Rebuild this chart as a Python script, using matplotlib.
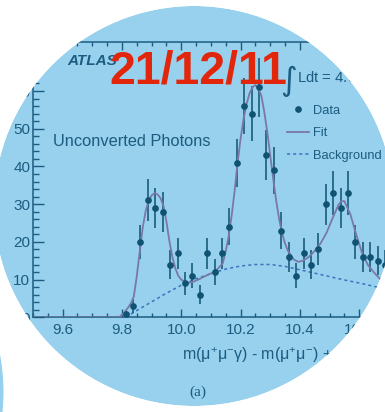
import numpy as np
import matplotlib.pyplot as plt
from matplotlib.patches import Circle, PathPatch
from matplotlib.path import Path
from matplotlib.transforms import IdentityTransform

plt.rcParams['font.family'] = ['Liberation Sans', 'DejaVu Sans']
plt.rcParams['mathtext.fontset'] = 'custom'
plt.rcParams['mathtext.rm'] = 'Liberation Sans'
plt.rcParams['mathtext.default'] = 'regular'

# chi_b candidates, 25 MeV bins
mass = [9.8125, 9.8375, 9.8625, 9.8875, 9.9125, 9.9375, 9.9625, 9.9875,
        10.0125, 10.0375, 10.0625, 10.0875, 10.1125, 10.1375, 10.1625, 10.1875,
        10.2125, 10.2375, 10.2625, 10.2875, 10.3125, 10.3375, 10.3625, 10.3875,
        10.4125, 10.4375, 10.4625, 10.4875, 10.5125, 10.5375, 10.5625, 10.5875,
        10.6125, 10.6375, 10.6625, 10.6875]
counts = [1, 3, 20, 31, 29, 28, 14, 17,
          9, 11, 6, 17, 12, 17, 24, 41,
          56, 54, 61, 43, 39, 23, 16, 11,
          17, 14, 18, 30, 33, 29, 33, 20,
          16, 16, 15, 14]

# total fit curve
fit_mass = [9.50, 9.79, 9.805, 9.82, 9.83, 9.84, 9.85, 9.86, 9.87, 9.88, 9.89,
            9.90, 9.91, 9.92, 9.93, 9.94, 9.95, 9.96, 9.97, 9.98, 9.99, 10.00,
            10.02, 10.04, 10.06, 10.08, 10.10, 10.12, 10.14, 10.15, 10.16, 10.17,
            10.18, 10.19, 10.20, 10.21, 10.22, 10.23, 10.24, 10.25, 10.26, 10.27,
            10.28, 10.29, 10.30, 10.31, 10.32, 10.33, 10.34, 10.35, 10.36, 10.38,
            10.395, 10.41, 10.43, 10.45, 10.47, 10.49, 10.51, 10.53, 10.54, 10.55,
            10.57, 10.59, 10.61, 10.63, 10.65, 10.67, 10.69, 10.72, 10.76]
fit_val = [0, 0, 1.0, 2.5, 3.7, 5.5, 10.9, 17.4, 23.8, 28.2, 30.9,
           32.3, 32.9, 32.6, 31.6, 29.6, 25.4, 20.2, 16.0, 13.0, 11.0, 10.0,
           9.1, 9.4, 10.1, 10.9, 11.6, 12.6, 14.3, 17.5, 21.5, 27.0,
           33.5, 41.0, 47.3, 52.5, 56.5, 59.3, 61.0, 61.6, 60.6, 58.8,
           54.5, 49.2, 43.0, 36.8, 31.0, 26.1, 22.3, 19.6, 17.6, 15.3,
           14.7, 15.0, 16.0, 17.6, 19.6, 22.4, 26.2, 29.8, 30.8, 30.8,
           27.4, 22.0, 17.0, 13.8, 11.9, 10.2, 9.1, 8.0, 7.0]

# background component
bkg_mass = [9.8125, 9.85, 9.90, 9.95, 10.00, 10.05, 10.10, 10.15, 10.20, 10.25,
            10.30, 10.35, 10.40, 10.45, 10.50, 10.55, 10.60, 10.65, 10.70, 10.75, 10.80]
bkg_val = [0, 1.8, 4.1, 6.4, 8.5, 10.2, 11.6, 12.8, 13.6, 14.0,
           14.0, 13.5, 12.6, 11.7, 10.8, 9.9, 9.1, 8.2, 7.4, 6.6, 5.8]

W, H = 385, 412
dark = '#1c5c80'
pcol = '#0f5272'
blue_bg = '#97d1ed'


def fpos(x, y):
    return x / W, 1 - y / H


fig = plt.figure(figsize=(W / 100, H / 100), dpi=100)
fig.patch.set_facecolor('white')

# blue disc
cx, cy, r = 194, H - 206, 200
fig.add_artist(Circle((cx, cy), r, transform=IdentityTransform(),
                      facecolor=blue_bg, edgecolor='none', zorder=-2))

ax_left, ax_bottom, ax_top = 33.0, 317.3, 42.0
xmin, xmax = 9.5, 11.0
ppu = 296.5
ax = fig.add_axes([ax_left / W, (H - ax_bottom) / H,
                   (xmax - xmin) * ppu / W, (ax_bottom - ax_top) / H])
ax.set_facecolor('none')
ax.set_xlim(xmin, xmax)
ax.set_ylim(0, 73)

ax.errorbar(mass, counts, yerr=np.sqrt(counts), fmt='none', ecolor=pcol,
            elinewidth=1.1, capsize=0, zorder=3)
ax.plot(fit_mass, fit_val, color='#7b78a8', lw=1.3, label='Fit', zorder=4)
ax.plot(mass, counts, 'o', color=pcol, ms=3.8, label='Data', zorder=5)
bl, = ax.plot(bkg_mass, bkg_val, color='#3c72bf', lw=1.1, label='Background', zorder=2)
bl.set_dashes((2, 2))

for s in ax.spines.values():
    s.set_color(dark)
    s.set_linewidth(1.1)
ax.set_xticks(np.arange(9.6, 11.01, 0.2))
ax.set_xticks(np.arange(9.5, 11.01, 0.05), minor=True)
ax.set_yticks(np.arange(0, 71, 10))
ax.set_yticks(np.arange(0, 73, 2), minor=True)
ax.xaxis.set_major_formatter(plt.FuncFormatter(lambda v, p: f'{v:.1f}'))
ax.tick_params(which='both', direction='in', top=True, right=True,
               color=dark, labelcolor=dark, width=1.0, labelsize=11)
ax.tick_params(axis='x', which='major', length=5.8, pad=4)
ax.tick_params(axis='x', which='minor', length=2.9)
ax.tick_params(axis='y', which='major', length=8, pad=2)
ax.tick_params(axis='y', which='minor', length=4.3)

ax.set_xlabel('m(μ$^{+}$μ$^{-}$γ) - m(μ$^{+}$μ$^{-}$) + m$_{Υ(1S)}$ [GeV]',
              ha='left', fontsize=11.5, color=dark)
ax.xaxis.set_label_coords((181.7 - ax_left) / ((xmax - xmin) * ppu),
                          -(345.5 - ax_bottom) / (ax_bottom - ax_top))

leg = ax.legend(handles=[ax.lines[1], ax.lines[0], bl], loc='upper left',
                bbox_to_anchor=fpos(287, 104.5), bbox_transform=fig.transFigure,
                frameon=False, fontsize=9.3, borderpad=0, borderaxespad=0,
                handlelength=1.7, handletextpad=0.35, labelspacing=0.82)
for t in leg.get_texts():
    t.set_color(dark)

fig.text(*fpos(67, 65), 'ATLAS', fontsize=11, style='italic', weight='bold',
         color=dark, va='baseline', zorder=2)
fig.text(*fpos(53, 146.5), 'Unconverted Photons', fontsize=11.8,
         color=dark, va='baseline', zorder=2)
fig.text(*fpos(280.5, 90), '∫', family='DejaVu Sans', fontsize=23,
         color=dark, va='baseline', zorder=2)
fig.text(*fpos(297, 83), 'Ldt = 4.9 fb$^{-1}$', fontsize=10.7,
         color=dark, va='baseline', zorder=2)
fig.text(*fpos(189, 396), '(a)', family='Liberation Serif', fontsize=11,
         color=dark, va='baseline', zorder=2)

# white surround with a round hole
outer = [(0, 0), (0, H), (W, H), (W, 0), (0, 0)]
ring = Path.circle((cx, cy), r)
verts = outer + list(ring.vertices)
codes = ([Path.MOVETO] + [Path.LINETO] * 3 + [Path.CLOSEPOLY]) + list(ring.codes)
mask = PathPatch(Path(verts, codes), transform=IdentityTransform(),
                 facecolor='white', edgecolor='none', zorder=5)
fig.add_artist(mask)
fig.add_artist(Circle((-200, H - 392), 203.5, transform=IdentityTransform(),
                      facecolor=blue_bg, edgecolor='none', zorder=6))

fig.text(*fpos(109, 84), '21/12/11', fontsize=33.5, weight='bold',
         color='#e2260c', va='baseline', zorder=7)

fig.savefig('out.png', dpi=100)
